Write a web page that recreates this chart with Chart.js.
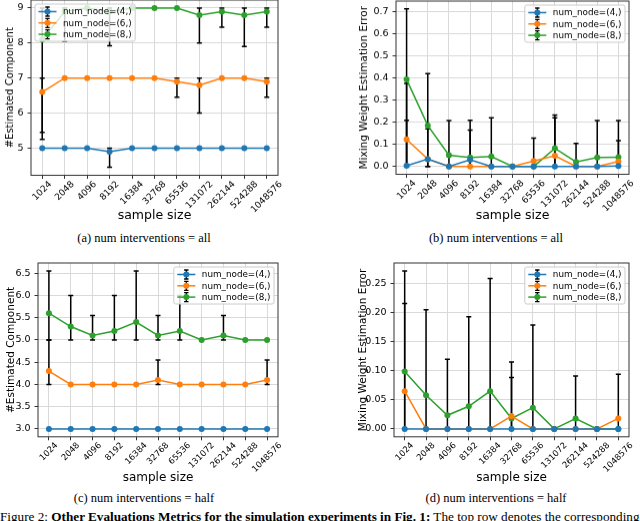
<!DOCTYPE html>
<html>
<head>
<meta charset="utf-8">
<script src="https://cdn.jsdelivr.net/npm/chart.js@4.4.0/dist/chart.umd.min.js"></script>
<style>
html, body { margin: 0; padding: 0; background: #fff; }
body { width: 640px; height: 521px; position: relative; overflow: hidden; }
canvas { position: absolute; }
.cap { position: absolute; font-family: 'Liberation Serif', 'Times New Roman', serif; font-size: 12.5px; line-height: 14px; white-space: nowrap; transform: translate(-50%, -50%); color: #000; }
#figcap { position: absolute; left: 0; top: 509px; font-family: 'Liberation Serif', serif; font-size: 13.2px; line-height: 15px; white-space: nowrap; color: #000; }
</style>
</head>
<body>
<canvas id="pa"></canvas>
<canvas id="pb"></canvas>
<canvas id="pc"></canvas>
<canvas id="pd"></canvas>
<div class="cap" style="left:144px;top:238px">(a) num interventions = all</div>
<div class="cap" style="left:496px;top:238px">(b) num interventions = all</div>
<div class="cap" style="left:144px;top:498px">(c) num interventions = half</div>
<div class="cap" style="left:496px;top:498px">(d) num interventions = half</div>
<div id="figcap">Figure 2: <b>Other Evaluations Metrics for the simulation experiments in Fig. 1:</b> The top row denotes the corresponding</div>
<script>
const sampleSizes = ['1024', '2048', '4096', '8192', '16384', '32768', '65536', '131072', '262144', '524288', '1048576'];
const seriesLabels = ['num_node=(4,)', 'num_node=(6,)', 'num_node=(8,)'];

// (a) #Estimated Component, all interventions
const compAllN4 = [5, 5, 5, 4.9, 5, 5, 5, 5, 5, 5, 5];
const compAllN6 = [6.6, 7, 7, 7, 7, 7, 6.9, 6.8, 7, 7, 6.9];
const compAllN8 = [8.1, 8.9, 9, 8.9, 9, 9, 9, 8.8, 8.9, 8.8, 8.9];
const compAllErrN4 = [null, null, null, [4.45, 5.0], null, null, null, null, null, null, null];
const compAllErrN6 = [[5.25, 7.0], null, null, null, null, null, [6.45, 7.0], [6.0, 7.0], null, null, [6.45, 7.0]];
const compAllErrN8 = [[5.45, 9.0], [8.05, 9.0], null, [7.92, 9.0], null, null, null, [8.0, 9.0], [8.45, 9.0], [7.9, 9.0], [8.45, 9.0]];
const compAllTicks = [5, 6, 7, 8, 9];

// (b) mixing weight error, all interventions
const mixAllN4 = [0.003, 0.033, 0, 0.03, 0, 0, 0, 0, 0, 0, 0.002];
const mixAllN6 = [0.122, 0.033, 0, 0, 0, 0, 0.025, 0.048, 0, 0, 0.022];
const mixAllN8 = [0.393, 0.185, 0.051, 0.04, 0.045, 0, 0, 0.082, 0.02, 0.04, 0.042];
const mixAllErrN4 = [[0, 0.209], null, null, [0, 0.164], null, null, null, null, null, null, null];
const mixAllErrN6 = [[0, 0.375], [0, 0.17], null, null, null, null, [0, 0.128], [0, 0.22], null, null, [0, 0.116]];
const mixAllErrN8 = [[0, 0.712], [0, 0.42], [0, 0.207], [0, 0.209], [0, 0.22], null, null, [0, 0.232], [0, 0.104], [0, 0.207], [0, 0.207]];
const mixAllTicks = [0, 0.1, 0.2, 0.3, 0.4, 0.5, 0.6, 0.7];

// (c) #Estimated Component, half interventions
const compHalfN4 = [3, 3, 3, 3, 3, 3, 3, 3, 3, 3, 3];
const compHalfN6 = [4.3, 4, 4, 4, 4, 4.1, 4, 4, 4, 4, 4.1];
const compHalfN8 = [5.6, 5.3, 5.1, 5.2, 5.4, 5.1, 5.2, 5.0, 5.1, 5.0, 5.0];
const compHalfErrN4 = [null, null, null, null, null, null, null, null, null, null, null];
const compHalfErrN6 = [[4.0, 5.0], null, null, null, null, [4.0, 4.55], null, null, null, null, [4.0, 4.55]];
const compHalfErrN8 = [[5.0, 6.55], [5.0, 6.0], [5.0, 5.55], [5.0, 6.0], [5.0, 6.55], [5.0, 5.55], [5.0, 6.0], null, [5.0, 5.55], null, null];
const compHalfTicks = [3.0, 3.5, 4.0, 4.5, 5.0, 5.5, 6.0, 6.5];

// (d) mixing weight error, half interventions
const mixHalfN4 = [0, 0, 0, 0, 0, 0, 0, 0, 0, 0, 0];
const mixHalfN6 = [0.065, 0, 0, 0, 0, 0.022, 0, 0, 0, 0, 0.018];
const mixHalfN8 = [0.099, 0.058, 0.0235, 0.039, 0.065, 0.018, 0.0365, 0, 0.0177, 0, 0];
const mixHalfErrN4 = [null, null, null, null, null, null, null, null, null, null, null];
const mixHalfErrN6 = [[0, 0.216], null, null, null, null, [0, 0.115], null, null, null, null, [0, 0.094]];
const mixHalfErrN8 = [[0, 0.272], [0, 0.205], [0, 0.12], [0, 0.193], [0, 0.259], [0, 0.0885], [0, 0.179], null, [0, 0.091], null, null];
const mixHalfTicks = [0, 0.05, 0.1, 0.15, 0.2, 0.25];

const colors = ['#1f77b4', '#ff7f0e', '#2ca02c'];
const FONT = '"DejaVu Sans", sans-serif';
Chart.defaults.font.family = FONT;

// matplotlib-like autoscale: data + error bars with 5% margins
function autoRange(series, errs) {
    var lo = Infinity, hi = -Infinity;
    series.forEach((s, k) => s.forEach((v, i) => {
        const e = errs[k][i];
        lo = Math.min(lo, v, e ? e[0] : v);
        hi = Math.max(hi, v, e ? e[1] : v);
    }));
    const m = (hi - lo) * 0.05;
    return [lo - m, hi + m];
}

function panelPlugin(errs, xtSize, legendLeft) {
    return {
        id: 'panelExtras',
        beforeDatasetsDraw(chart) {
            const ctx = chart.ctx, x = chart.scales.x, y = chart.scales.y;
            ctx.save();
            ctx.strokeStyle = '#000';
            ctx.lineWidth = 1.5;
            errs.forEach(list => list.forEach((e, i) => {
                if (!e) return;
                const px = x.getPixelForValue(i);
                const y0 = y.getPixelForValue(e[0]), y1 = y.getPixelForValue(e[1]);
                ctx.beginPath();
                ctx.moveTo(px, y0); ctx.lineTo(px, y1);
                ctx.moveTo(px - 2.5, y0); ctx.lineTo(px + 2.5, y0);
                ctx.moveTo(px - 2.5, y1); ctx.lineTo(px + 2.5, y1);
                ctx.stroke();
            }));
            ctx.restore();
        },
        afterDatasetsDraw(chart) {
            const a = chart.chartArea, ctx = chart.ctx;
            ctx.save();
            ctx.strokeStyle = '#333';
            ctx.lineWidth = 1;
            ctx.strokeRect(a.left, a.top, a.right - a.left, a.bottom - a.top);
            ctx.restore();
        },
        afterDraw(chart) {
            const a = chart.chartArea, ctx = chart.ctx, x = chart.scales.x;
            ctx.save();
            // rotated x tick labels, centred like matplotlib
            ctx.font = xtSize + 'px ' + FONT;
            ctx.fillStyle = '#000';
            ctx.textAlign = 'center';
            ctx.textBaseline = 'middle';
            chart.data.labels.forEach((lab, i) => {
                const px = x.getPixelForValue(i);
                const w = ctx.measureText(lab).width, h = xtSize * 1.1;
                const half = (w + h) * Math.SQRT1_2 / 2;
                ctx.save();
                ctx.translate(px, a.bottom + 4 + half);
                ctx.rotate(-Math.PI / 4);
                ctx.fillText(lab, 0, 0);
                ctx.restore();
            });
            // legend
            const lf = 8.8;
            ctx.font = lf + 'px ' + FONT;
            const tw = Math.max(...chart.data.datasets.map(d => ctx.measureText(d.label).width));
            const bw = 28 + tw + 3.5, bh = 37;
            const bx = legendLeft ? a.left + 4 : a.right - 4 - bw, by = a.top + 4;
            ctx.beginPath();
            ctx.roundRect(bx, by, bw, bh, 2);
            ctx.fillStyle = 'rgba(255,255,255,0.8)';
            ctx.fill();
            ctx.strokeStyle = '#cccccc';
            ctx.lineWidth = 1;
            ctx.stroke();
            chart.data.datasets.forEach((d, k) => {
                const cy = by + 7.5 + k * 11.3, cx = bx + 12.5;
                ctx.strokeStyle = '#000';
                ctx.lineWidth = 1.3;
                ctx.beginPath();
                ctx.moveTo(cx, cy - 4.5); ctx.lineTo(cx, cy + 4.5);
                ctx.moveTo(cx - 2.2, cy - 4.5); ctx.lineTo(cx + 2.2, cy - 4.5);
                ctx.moveTo(cx - 2.2, cy + 4.5); ctx.lineTo(cx + 2.2, cy + 4.5);
                ctx.stroke();
                ctx.strokeStyle = d.borderColor;
                ctx.lineWidth = 1.5;
                ctx.beginPath();
                ctx.moveTo(bx + 3.5, cy); ctx.lineTo(bx + 21.5, cy);
                ctx.stroke();
                ctx.fillStyle = d.borderColor;
                ctx.beginPath();
                ctx.arc(cx, cy, 3, 0, Math.PI * 2);
                ctx.fill();
                ctx.fillStyle = '#000';
                ctx.textAlign = 'left';
                ctx.fillText(d.label, bx + 28, cy + 0.5);
            });
            ctx.restore();
        }
    };
}

function makePanel(id, box, series, errs, yTicks, decimals, yTitle, legendLeft) {
    const canvas = document.getElementById(id);
    const cLeft = box.yTitleX - 12, cTop = box.t - 2;
    const padL = box.yTitleX - cLeft - 0.6 * box.ytSize;
    const cW = box.r + 6 - cLeft;
    const cBottom = box.xTitleY + 0.6 * box.xtlSize + 4;
    const cH = cBottom - cTop;
    canvas.style.left = cLeft + 'px';
    canvas.style.top = cTop + 'px';
    canvas.width = cW;
    canvas.height = cH;
    canvas.style.width = cW + 'px';
    canvas.style.height = cH + 'px';
    const yw = box.l - cLeft - padL, xh = cBottom - box.b;
    const range = autoRange(series, errs);
    const gridColor = '#d9d9d9';

    return new Chart(canvas, {
        type: 'line',
        data: {
            labels: sampleSizes,
            datasets: series.map((s, k) => ({
                label: seriesLabels[k],
                data: s,
                borderColor: colors[k],
                backgroundColor: colors[k],
                borderWidth: 1.5,
                pointRadius: 3,
                pointBorderWidth: 0,
                pointHoverRadius: 3,
                tension: 0
            }))
        },
        options: {
            responsive: false,
            animation: false,
            events: [],
            layout: { padding: { left: padL, top: 2, right: 6, bottom: 0 } },
            plugins: { legend: { display: false }, tooltip: { enabled: false } },
            scales: {
                x: {
                    offset: true,
                    grid: { offset: false, color: gridColor, lineWidth: 1, tickLength: 3.5, tickColor: '#333' },
                    border: { display: false },
                    ticks: { display: false },
                    title: { display: true, text: 'sample size', color: '#000', font: { size: box.xtlSize }, padding: { top: 0, bottom: 4 } },
                    afterFit: s => { s.height = xh; }
                },
                y: {
                    min: range[0],
                    max: range[1],
                    afterBuildTicks: s => { s.ticks = yTicks.map(v => ({ value: v })); },
                    grid: { color: gridColor, lineWidth: 1, tickLength: 3.5, tickColor: '#333' },
                    border: { display: false },
                    ticks: { color: '#000', font: { size: 9.5 }, padding: 4, callback: v => v.toFixed(decimals) },
                    title: { display: true, text: yTitle, color: '#000', font: { size: box.ytSize }, padding: { top: 0, bottom: 0 } },
                    afterFit: s => { s.width = yw; s.paddingTop = 0; s.paddingBottom = 0; }
                }
            }
        },
        plugins: [panelPlugin(errs, box.xtSize, legendLeft)]
    });
}

makePanel('pa', { l: 31, r: 278, t: -1, b: 175, yTitleX: 10, xTitleY: 215, ytSize: 10, xtlSize: 12.5, xtSize: 9 },
    [compAllN4, compAllN6, compAllN8], [compAllErrN4, compAllErrN6, compAllErrN8],
    compAllTicks, 0, '#Estimated Component', true);
makePanel('pb', { l: 396, r: 629, t: 0, b: 174, yTitleX: 364, xTitleY: 215, ytSize: 10.5, xtlSize: 12.5, xtSize: 9 },
    [mixAllN4, mixAllN6, mixAllN8], [mixAllErrN4, mixAllErrN6, mixAllErrN8],
    mixAllTicks, 1, 'Mixing Weight Estimation Error', false);
makePanel('pc', { l: 38, r: 278, t: 262, b: 437, yTitleX: 11, xTitleY: 478, ytSize: 10.5, xtlSize: 12, xtSize: 8.5 },
    [compHalfN4, compHalfN6, compHalfN8], [compHalfErrN4, compHalfErrN6, compHalfErrN8],
    compHalfTicks, 1, '#Estimated Component', false);
makePanel('pd', { l: 394, r: 629, t: 262, b: 437, yTitleX: 363, xTitleY: 478, ytSize: 10.5, xtlSize: 12, xtSize: 8.5 },
    [mixHalfN4, mixHalfN6, mixHalfN8], [mixHalfErrN4, mixHalfErrN6, mixHalfErrN8],
    mixHalfTicks, 2, 'Mixing Weight Estimation Error', false);
</script>
</body>
</html>
